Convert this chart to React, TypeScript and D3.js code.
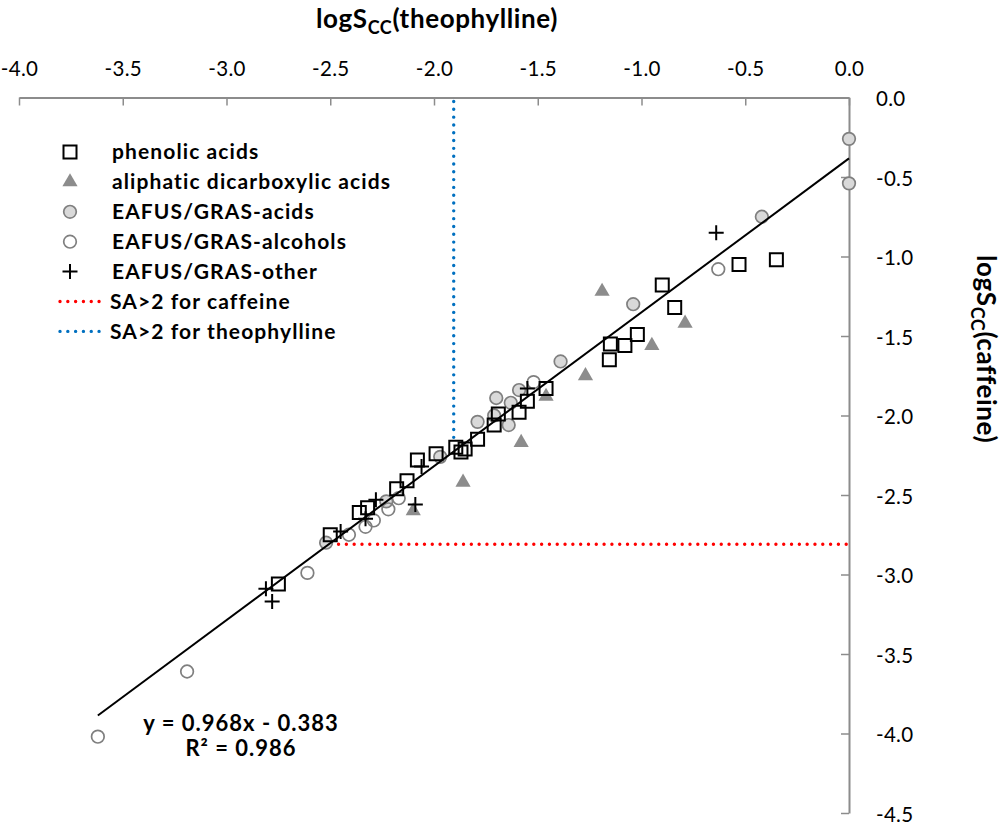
import React, { useEffect, useRef } from "react";
import * as d3 from "d3";

// ---- data ----
const phenolicX = [-0.35, -0.53, -0.9, -0.84, -1.02, -1.08, -1.15, -1.155, -1.46, -1.55, -1.59, -1.69, -1.71, -1.79, -1.85, -1.87, -1.895, -1.99, -2.08, -2.13, -2.18, -2.32, -2.36, -2.5, -2.75];
const phenolicY = [-1.02, -1.05, -1.18, -1.32, -1.49, -1.56, -1.55, -1.65, -1.83, -1.91, -1.98, -1.99, -2.06, -2.15, -2.21, -2.23, -2.2, -2.24, -2.28, -2.41, -2.46, -2.58, -2.61, -2.75, -3.06];

const aliphaticX = [-1.19, -0.79, -0.95, -1.27, -1.46, -1.58, -1.86, -2.1];
const aliphaticY = [-1.22, -1.42, -1.56, -1.75, -1.88, -2.17, -2.42, -2.6];

const acidsX = [0.0, 0.0, -0.42, -1.04, -1.39, -1.59, -1.63, -1.7, -1.71, -1.64, -1.79, -1.97, -2.23, -2.52];
const acidsY = [-0.26, -0.54, -0.75, -1.3, -1.66, -1.84, -1.92, -1.89, -2.0, -2.06, -2.04, -2.26, -2.54, -2.8];

const alcoholsX = [-0.63, -1.52, -2.17, -2.22, -2.29, -2.33, -2.41, -2.61, -3.19, -3.62];
const alcoholsY = [-1.08, -1.79, -2.52, -2.59, -2.66, -2.7, -2.75, -2.99, -3.61, -4.02];

const otherX = [-0.64, -1.55, -2.06, -2.09, -2.28, -2.33, -2.45, -2.81, -2.78];
const otherY = [-0.85, -1.83, -2.32, -2.56, -2.53, -2.65, -2.73, -3.09, -3.17];

const trendSlope = 0.968;
const trendIntercept = -0.383;
const trendR2 = 0.986;
const trendRangeX = [-3.62, 0];

const caffeineSAX = [-2.46, 0];
const caffeineSAY = -2.81;
const theoSAX = -1.905;
const theoSAY = [0, -2.17];

const xTicks = [-4.0, -3.5, -3.0, -2.5, -2.0, -1.5, -1.0, -0.5, 0.0];
const yTicks = [0.0, -0.5, -1.0, -1.5, -2.0, -2.5, -3.0, -3.5, -4.0, -4.5];

const legendLabels = [
  "phenolic acids",
  "aliphatic dicarboxylic acids",
  "EAFUS/GRAS-acids",
  "EAFUS/GRAS-alcohols",
  "EAFUS/GRAS-other",
  "SA>2 for caffeine",
  "SA>2 for theophylline",
];

const FONT = "Lato, 'Open Sans', sans-serif";
const AXIS_COLOR = "#8c8c8c";
const RED = "#ff0000";
const BLUE = "#0070c0";

export default function App() {
  const ref = useRef<SVGSVGElement | null>(null);

  useEffect(() => {
    const svg = d3.select(ref.current);
    svg.selectAll("*").remove();

    const x = d3.scaleLinear().domain([-4, 0]).range([19, 849]);
    const y = d3.scaleLinear().domain([0, -4.5]).range([97.5, 813]);

    const fmt = (d: number) => d.toFixed(1);

    // top axis
    const gx = svg
      .append("g")
      .attr("transform", `translate(0,${y(0)})`)
      .call(
        d3
          .axisTop(x)
          .tickValues(xTicks)
          .tickSizeInner(-8)
          .tickSizeOuter(0)
          .tickPadding(22)
          .tickFormat(fmt as any)
      );
    gx.select(".domain").attr("stroke", AXIS_COLOR).attr("stroke-width", 2);
    gx.selectAll(".tick line").attr("stroke", AXIS_COLOR).attr("stroke-width", 1.5);
    gx.selectAll(".tick text")
      .attr("font-family", FONT)
      .attr("font-size", 20.5)
      .attr("letter-spacing", 0.3)
      .attr("fill", "#000");

    // right axis
    const gy = svg
      .append("g")
      .attr("transform", `translate(${x(0)},0)`)
      .call(
        d3
          .axisRight(y)
          .tickValues(yTicks)
          .tickSizeInner(-8)
          .tickSizeOuter(0)
          .tickPadding(27)
          .tickFormat(fmt as any)
      );
    gy.select(".domain").attr("stroke", AXIS_COLOR).attr("stroke-width", 2);
    gy.selectAll(".tick line").attr("stroke", AXIS_COLOR).attr("stroke-width", 1.5);
    gy.selectAll(".tick text")
      .attr("font-family", FONT)
      .attr("font-size", 20.5)
      .attr("letter-spacing", 0.3)
      .attr("fill", "#000")
      .attr("dy", "0.4em");

    // axis titles
    const tTitle = svg
      .append("text")
      .attr("x", 437)
      .attr("y", 28)
      .attr("text-anchor", "middle")
      .attr("font-family", FONT)
      .attr("font-weight", "bold")
      .attr("font-size", 26)
      .attr("letter-spacing", 0.6)
      .attr("fill", "#000");
    tTitle.append("tspan").text("logS");
    tTitle.append("tspan").attr("font-size", 18).attr("dy", 6).text("CC");
    tTitle.append("tspan").attr("dy", -6).text("(theophylline)");

    const rTitle = svg
      .append("text")
      .attr("transform", `translate(977,255) rotate(90)`)
      .attr("text-anchor", "start")
      .attr("font-family", FONT)
      .attr("font-weight", "bold")
      .attr("font-size", 26)
      .attr("letter-spacing", 0.6)
      .attr("fill", "#000");
    rTitle.append("tspan").text("logS");
    rTitle.append("tspan").attr("font-size", 18).attr("dy", 6).text("CC");
    rTitle.append("tspan").attr("dy", -6).text("(caffeine)");

    // SA>2 dotted lines
    const dotted = (sel: any, color: string) =>
      sel
        .attr("stroke", color)
        .attr("stroke-width", 3.4)
        .attr("stroke-linecap", "round")
        .attr("stroke-dasharray", "0.01 7.8")
        .attr("fill", "none");

    dotted(
      svg
        .append("line")
        .attr("x1", x(caffeineSAX[0]))
        .attr("x2", x(caffeineSAX[1]))
        .attr("y1", y(caffeineSAY))
        .attr("y2", y(caffeineSAY)),
      RED
    );
    dotted(
      svg
        .append("line")
        .attr("x1", x(theoSAX))
        .attr("x2", x(theoSAX))
        .attr("y1", y(theoSAY[0]) + 4)
        .attr("y2", y(theoSAY[1])),
      BLUE
    );

    const plot = svg.append("g");

    const circle = d3.symbol().type(d3.symbolCircle).size(Math.PI * 6.3 * 6.3);
    const square = d3.symbol().type(d3.symbolSquare).size(13 * 13);
    const triangle = d3.symbol().type(d3.symbolTriangle).size(100);
    const plus = (cx: number, cy: number, r: number) =>
      `M${cx - r},${cy}H${cx + r}M${cx},${cy - r}V${cy + r}`;

    // acids (gray filled circles)
    plot
      .selectAll(".acid")
      .data(acidsX.map((v, i) => [v, acidsY[i]]))
      .join("path")
      .attr("d", circle as any)
      .attr("transform", (d) => `translate(${x(d[0])},${y(d[1])})`)
      .attr("fill", "#d9d9d9")
      .attr("stroke", "#7f7f7f")
      .attr("stroke-width", 1.7);

    // alcohols (open circles)
    plot
      .selectAll(".alc")
      .data(alcoholsX.map((v, i) => [v, alcoholsY[i]]))
      .join("path")
      .attr("d", circle as any)
      .attr("transform", (d) => `translate(${x(d[0])},${y(d[1])})`)
      .attr("fill", "none")
      .attr("stroke", "#7f7f7f")
      .attr("stroke-width", 1.7);

    // aliphatic (gray triangles)
    plot
      .selectAll(".tri")
      .data(aliphaticX.map((v, i) => [v, aliphaticY[i]]))
      .join("path")
      .attr("d", triangle as any)
      .attr("transform", (d) => `translate(${x(d[0])},${y(d[1])})`)
      .attr("fill", "#8c8c8c")
      .attr("stroke", "none");

    // phenolic (open squares)
    plot
      .selectAll(".sq")
      .data(phenolicX.map((v, i) => [v, phenolicY[i]]))
      .join("path")
      .attr("d", square as any)
      .attr("transform", (d) => `translate(${x(d[0])},${y(d[1])})`)
      .attr("fill", "none")
      .attr("stroke", "#000")
      .attr("stroke-width", 2);

    // other (plus)
    plot
      .selectAll(".pl")
      .data(otherX.map((v, i) => [v, otherY[i]]))
      .join("path")
      .attr("d", (d) => plus(x(d[0]), y(d[1]), 7.5))
      .attr("fill", "none")
      .attr("stroke", "#000")
      .attr("stroke-width", 2);

    // trendline
    const line = d3
      .line<number>()
      .x((d) => x(d))
      .y((d) => y(trendSlope * d + trendIntercept));
    svg
      .append("path")
      .attr("d", line(trendRangeX) as string)
      .attr("stroke", "#000")
      .attr("stroke-width", 2)
      .attr("fill", "none");

    // equation
    svg
      .append("text")
      .attr("x", 241)
      .attr("y", 731)
      .attr("text-anchor", "middle")
      .attr("font-family", FONT)
      .attr("font-weight", "bold")
      .attr("font-size", 22)
      .attr("letter-spacing", 1)
      .attr("fill", "#000")
      .text(`y = ${trendSlope.toFixed(3)}x - ${Math.abs(trendIntercept).toFixed(3)}`);
    svg
      .append("text")
      .attr("x", 241)
      .attr("y", 756)
      .attr("text-anchor", "middle")
      .attr("font-family", FONT)
      .attr("font-weight", "bold")
      .attr("font-size", 22)
      .attr("letter-spacing", 1)
      .attr("fill", "#000")
      .text(`R² = ${trendR2.toFixed(3)}`);

    // legend
    const lg = svg.append("g");
    const rowY = (i: number) => 152 + i * 29.9;
    legendLabels.forEach((lab, i) => {
      const cy = rowY(i);
      const cx = 70;
      if (i === 0) {
        lg.append("path").attr("d", square as any).attr("transform", `translate(${cx},${cy})`).attr("fill", "none").attr("stroke", "#000").attr("stroke-width", 2);
      } else if (i === 1) {
        lg.append("path").attr("d", triangle as any).attr("transform", `translate(${cx},${cy})`).attr("fill", "#8c8c8c");
      } else if (i === 2) {
        lg.append("path").attr("d", circle as any).attr("transform", `translate(${cx},${cy})`).attr("fill", "#d9d9d9").attr("stroke", "#7f7f7f").attr("stroke-width", 1.7);
      } else if (i === 3) {
        lg.append("path").attr("d", circle as any).attr("transform", `translate(${cx},${cy})`).attr("fill", "none").attr("stroke", "#7f7f7f").attr("stroke-width", 1.7);
      } else if (i === 4) {
        lg.append("path").attr("d", plus(cx, cy, 7.5)).attr("stroke", "#000").attr("stroke-width", 2);
      } else {
        dotted(
          lg.append("line").attr("x1", 60).attr("x2", 100).attr("y1", cy).attr("y2", cy),
          i === 5 ? RED : BLUE
        );
      }
      lg.append("text")
        .attr("x", i >= 5 ? 110 : 112)
        .attr("y", cy)
        .attr("dy", "0.35em")
        .attr("font-family", FONT)
        .attr("font-weight", "bold")
        .attr("font-size", 21)
        .attr("letter-spacing", 1.1)
        .attr("fill", "#000")
        .text(lab);
    });
  }, []);

  return (
    <svg
      ref={ref}
      width={1000}
      height={824}
      style={{ position: "absolute", left: 0, top: 0, background: "#fff" }}
    />
  );
}
